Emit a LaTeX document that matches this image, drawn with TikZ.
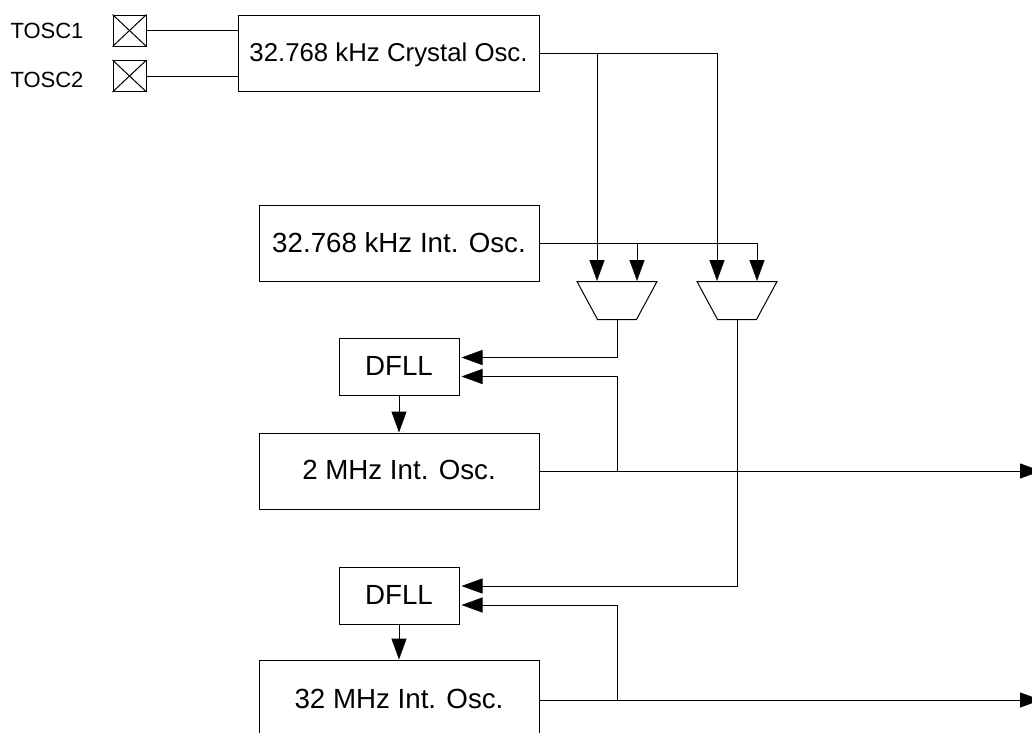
\documentclass[tikz,border=0pt]{standalone}
\usepackage{fontspec}
\setmainfont{Liberation Sans}
\usetikzlibrary{arrows.meta,calc,shapes.geometric}

\begin{document}
\begin{tikzpicture}[node distance=100pt, line width=1pt, align=center]
		\tikzset{%
  >={Triangle[width=15pt,length=21pt]},
  % Specifications for style of nodes:
            osc/.style = {rectangle, draw=black, inner sep=0pt, text depth=2pt,
                           minimum width=280pt, minimum height=76pt,
                           font=\fontsize{27.7}{33}\selectfont},
  dfll/.style = {rectangle, draw=black, inner sep=0pt, text depth=2pt,
                           minimum width=120pt, minimum height=57pt,
                           font=\fontsize{27.7}{33}\selectfont},
       pin/.style = {rectangle, draw=black, inner sep=0pt,minimum width=33pt,minimum height=31pt},
    pinlabel/.style = {inner sep=0pt, font=\fontsize{22}{26}\selectfont},
         mux/.style = {trapezium, draw=black, inner sep=1pt, shape border rotate=180,
                          trapezium stretches=true, trapezium angle=62.2,
                          minimum width=80pt, minimum height=38pt},
}
  \clip (0,0) rectangle (1032pt,-732pt);
  % Specification of nodes (position, etc.)

  \node (crystal) [osc, minimum width=301pt, font=\fontsize{25.8}{31}\selectfont] at (388.5pt,-53pt) {32.768 kHz Crystal Osc.};
  \node (intosc) [osc, below of=crystal, yshift=-90.5pt, xshift=10.5pt] {32.768 kHz Int. Osc.};

  \node (dfll1) [dfll, below of=intosc, yshift=-23.5pt] {DFLL};
  \node (osc2) [osc, below of=dfll1, yshift=-4pt] {2 MHz Int. Osc.};
  \node (dfll2) [dfll, below of=osc2, yshift=-24.5pt] {DFLL};
  \node (osc32) [osc, minimum height=80pt, below of=dfll2, yshift=-4.5pt] {32 MHz Int. Osc.};

  \node (mux1) [mux, below of=intosc, yshift=43pt, xshift=218pt] {};
  \node (mux2) [mux, right of=mux1, xshift=20pt] {};

  \node (pin1) [pin, left of=crystal, xshift=-159pt, yshift=22.5pt] {};
  \node (pin2) [pin, below of=pin1, yshift=54.5pt] {};
  \node (tosc1) [pinlabel, left of=pin1, xshift=17.5pt] {TOSC1};
  \node (tosc2) [pinlabel, left of=pin2, xshift=17.5pt, yshift=-4pt] {TOSC2};

  \coordinate (out1) at (1041pt,-471pt);
  \coordinate (out2) at (1041pt,-700pt);

  % Specification of lines between nodes specified above
\foreach \p in {pin1,pin2} {
  \draw (\p.north west) -- (\p.south east);
  \draw (\p.south west) -- (\p.north east);
  \draw (\p.east) -- (\p.east -| crystal.west);
}

\draw[->] (crystal.east) -| ([xshift=-20pt]mux1.north);
\draw[->] (crystal.east) -| ([xshift=-20pt]mux2.north);
\draw[->] (intosc.east) -| ([xshift=20pt]mux1.north);
\draw[->] (intosc.east) -| ([xshift=20pt]mux2.north);

\draw[->] (mux1.south) |- ([xshift=2pt,yshift=9.5pt]dfll1.east);
\draw[->] (mux2.south) |- ([xshift=2pt,yshift=9.5pt]dfll2.east);

\draw[->] (dfll1) -- (osc2);
\draw[->] (dfll2) -- (osc32);

\draw[->] (osc2.east) -- (out1);
\draw[->] (osc32.east) -- (out2);

\draw[->] (mux1.south |- osc2.east) |- ([xshift=2pt,yshift=-9.5pt]dfll1.east);
\draw[->] (mux1.south |- out2) |- ([xshift=2pt,yshift=-9.5pt]dfll2.east);

  \end{tikzpicture}
\end{document}
